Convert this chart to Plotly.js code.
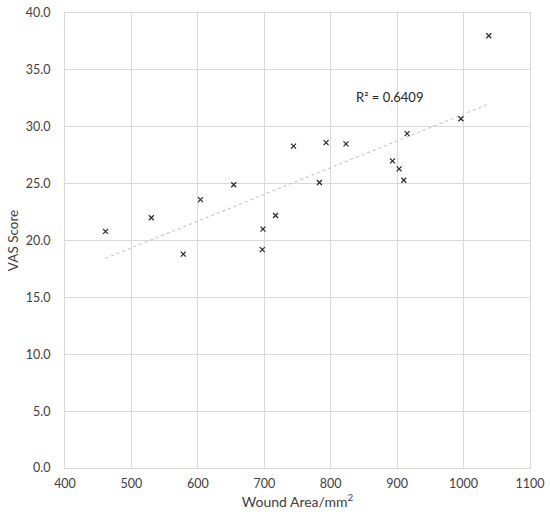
<!DOCTYPE html>
<html>
<head>
<meta charset="utf-8">
<script src="https://cdn.plot.ly/plotly-3.0.1.min.js"></script>
<style>html,body{margin:0;padding:0;background:#fff;}#chart{width:550px;height:527px;}</style>
</head>
<body>
<div id="chart"></div>
<script>
// Data
var woundArea = [461, 530, 578, 604, 654, 698, 697, 717, 744, 783, 793, 823, 893, 903, 910, 915, 996, 1038];
var vasScore  = [20.8, 22.0, 18.8, 23.6, 24.9, 21.0, 19.2, 22.2, 28.3, 25.1, 28.6, 28.5, 27.0, 26.3, 25.3, 29.4, 30.7, 38.0];
var xTicks = [400, 500, 600, 700, 800, 900, 1000, 1100];
var yTicks = [0, 5, 10, 15, 20, 25, 30, 35, 40];
var r2Label = "R² = 0.6409";

// Least-squares linear trendline (as Excel computes it)
var n = woundArea.length;
var mx = woundArea.reduce(function(a,b){return a+b;},0)/n;
var my = vasScore.reduce(function(a,b){return a+b;},0)/n;
var sxy = 0, sxx = 0;
for (var i = 0; i < n; i++) { sxy += (woundArea[i]-mx)*(vasScore[i]-my); sxx += (woundArea[i]-mx)*(woundArea[i]-mx); }
var slope = sxy/sxx, intercept = my - slope*mx;
var xMin = Math.min.apply(null, woundArea), xMax = Math.max.apply(null, woundArea);
var trendX = [xMin, xMax];
var trendY = trendX.map(function(x){return intercept + slope*x;});

var font = "Lato, 'Open Sans', sans-serif";
var traces = [
  {x: trendX, y: trendY, mode: 'lines', type: 'scatter',
   line: {color: '#c4c4c4', width: 1.1, dash: 'dot'}, hoverinfo: 'skip'},
  {x: woundArea, y: vasScore, mode: 'markers', type: 'scatter',
   marker: {symbol: 'x-thin', size: 5, color: '#262626', line: {color: '#262626', width: 1.2}}}
];
var layout = {
  width: 550, height: 527,
  margin: {l: 65, r: 20, t: 13, b: 59},
  paper_bgcolor: '#fff', plot_bgcolor: '#fff',
  showlegend: false,
  font: {family: font, color: '#404040', size: 12},
  xaxis: {
    range: [400, 1100], tickvals: xTicks, ticktext: xTicks.map(String),
    showgrid: true, gridcolor: '#d9d9d9', gridwidth: 1,
    showline: true, linecolor: '#d9d9d9', linewidth: 1, mirror: true,
    zeroline: false, ticks: 'outside', ticklen: 4, tickcolor: 'rgba(0,0,0,0)',
    tickfont: {family: font, size: 12.5, color: '#404040'},
    title: {text: 'Wound Area/mm<sup>2</sup>', font: {family: font, size: 14, color: '#404040'}, standoff: 3}
  },
  yaxis: {
    range: [0, 40], tickvals: yTicks, ticktext: yTicks.map(function(v){return v.toFixed(1);}),
    showgrid: true, gridcolor: '#d9d9d9', gridwidth: 1,
    showline: true, linecolor: '#d9d9d9', linewidth: 1, mirror: true,
    zeroline: false, ticks: 'outside', ticklen: 11, tickcolor: 'rgba(0,0,0,0)',
    tickfont: {family: font, size: 12.5, color: '#404040'},
    title: {text: 'VAS Score', font: {family: font, size: 13.5, color: '#404040'}, standoff: 4}
  },
  annotations: [
    {x: 888, y: 32.6, xref: 'x', yref: 'y', text: r2Label, showarrow: false,
     font: {family: font, size: 13, color: '#262626'}}
  ]
};
Plotly.newPlot('chart', traces, layout, {displayModeBar: false, staticPlot: true});
</script>
</body>
</html>
